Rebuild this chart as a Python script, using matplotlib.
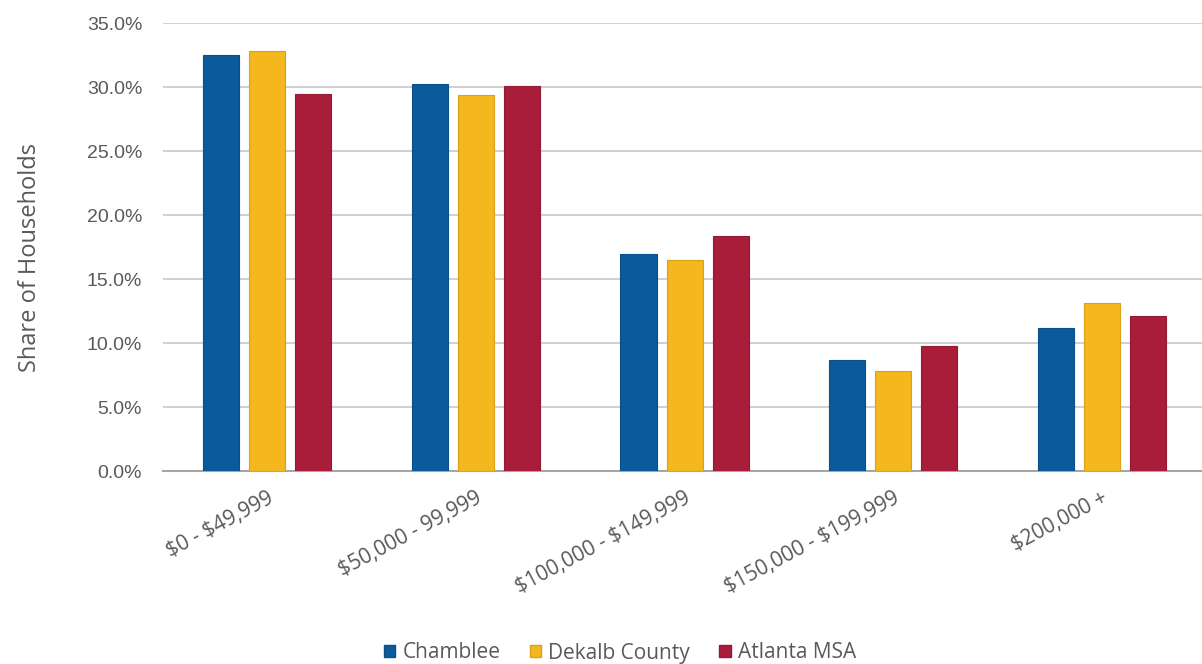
import matplotlib
matplotlib.use("Agg")
import matplotlib.pyplot as plt
import numpy as np
from matplotlib.ticker import FuncFormatter, MultipleLocator
from matplotlib.patches import Patch

categories = ["\\$0 - \\$49,999", "\\$50,000 - 99,999", "\\$100,000 - \\$149,999",
              "\\$150,000 - \\$199,999", "\\$200,000 +"]
series_names = ["Chamblee", "Dekalb County", "Atlanta MSA"]
chamblee = [32.5, 30.25, 16.95, 8.65, 11.15]
dekalb = [32.85, 29.35, 16.45, 7.85, 13.1]
atlanta = [29.45, 30.05, 18.35, 9.75, 12.1]
colors = ["#0B5A9C", "#F5B71E", "#A91D3B"]
edges = ["#0A4F88", "#D9A01A", "#921A33"]

fig = plt.figure(figsize=(12.02, 6.64), dpi=100)
ax = fig.add_axes([163/1202, 1-471/664, (1202-163)/1202, (471-23)/664])

x = np.arange(len(categories))
w = 0.173
off = 0.221
for i, (vals, c, ec) in enumerate(zip([chamblee, dekalb, atlanta], colors, edges)):
    ax.bar(x + (i-1)*off, vals, width=w, color=c, edgecolor=ec, linewidth=0.8, zorder=3)

ax.set_xlim(-0.5, 4.48)
ax.set_ylim(0, 35)
ax.yaxis.set_major_locator(MultipleLocator(5))
ax.yaxis.set_major_formatter(FuncFormatter(lambda v, p: f"{v:.1f}%"))
ax.grid(axis="y", color="#C8C8C8", linewidth=1.2, zorder=0)
for s in ["top", "right", "left"]:
    ax.spines[s].set_visible(False)
ax.spines["bottom"].set_color("#A6A6A6")
ax.spines["bottom"].set_linewidth(1.5)
ax.tick_params(axis="y", length=0, pad=15, labelsize=14, labelcolor="#595959")
ax.tick_params(axis="x", length=0, pad=12)
for lab in ax.get_yticklabels():
    lab.set_family(["Liberation Sans", "DejaVu Sans"])

ax.set_xticks(x)
ax.set_xticklabels(categories, rotation=28, ha="right", va="top",
                   rotation_mode="anchor", fontsize=15, color="#595959",
                   family=["Open Sans", "DejaVu Sans"])

fig.text(30/1202, 1-258/664, "Share of Households", rotation=90, ha="center", va="center",
         fontsize=17, color="#595959", family=["Open Sans", "DejaVu Sans"])

handles = [Patch(facecolor=c, edgecolor=ec) for c, ec in zip(colors, edges)]
fig.legend(handles, series_names, loc="center", bbox_to_anchor=(620/1202, 1-653/664),
           ncol=3, frameon=False, handlelength=0.55, handleheight=0.55,
           handletextpad=0.35, columnspacing=1.4,
           prop={"family": ["Open Sans", "DejaVu Sans"], "size": 15},
           labelcolor="#595959")

fig.savefig("out.png", dpi=100)
